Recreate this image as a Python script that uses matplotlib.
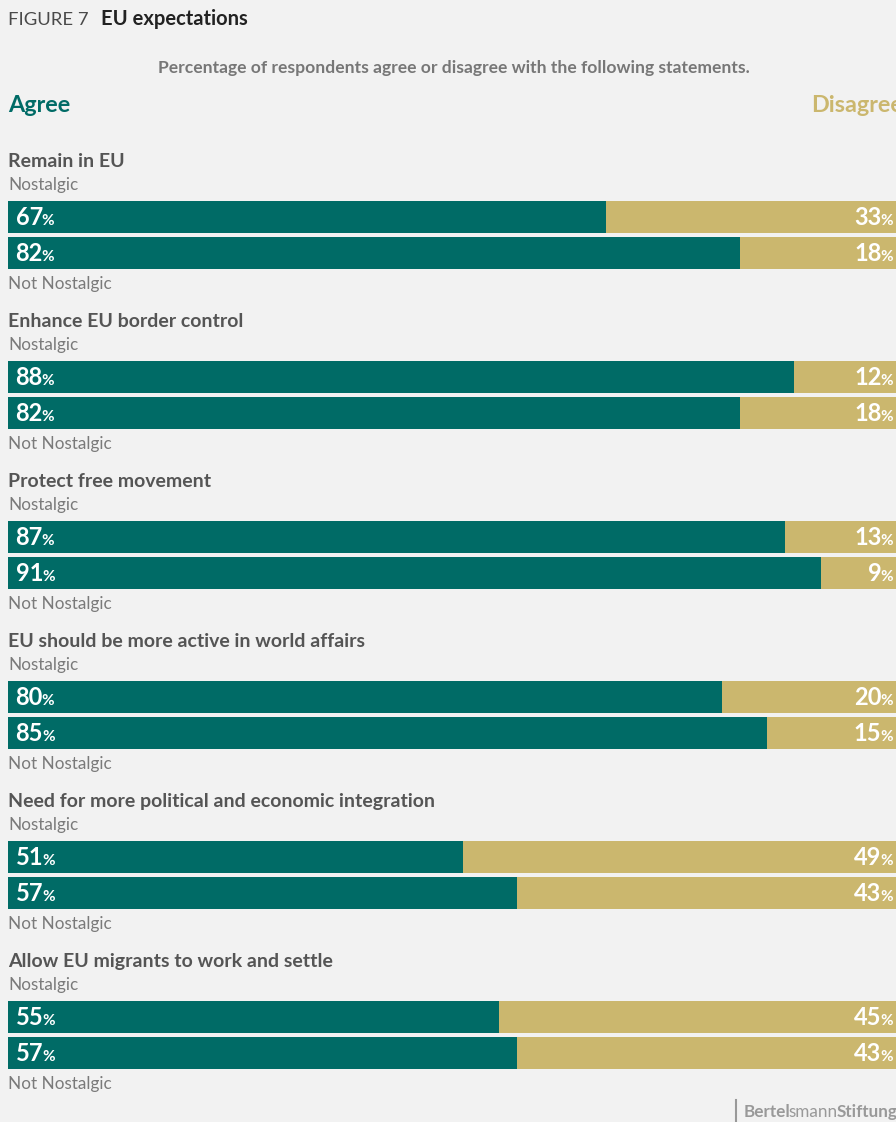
import matplotlib
matplotlib.use('Agg')
import matplotlib.pyplot as plt

# data
statements = [
    "Remain in EU",
    "Enhance EU border control",
    "Protect free movement",
    "EU should be more active in world affairs",
    "Need for more political and economic integration",
    "Allow EU migrants to work and settle",
]
agree_nostalgic = [67, 88, 87, 80, 51, 55]
agree_not_nostalgic = [82, 82, 91, 85, 57, 57]
groups = ["Nostalgic", "Not Nostalgic"]

TEAL = '#006b66'
GOLD = '#cbb76e'
BG = '#f2f2f2'
FONT = ['Lato', 'DejaVu Sans']

W, H = 896, 1122
fig = plt.figure(figsize=(W / 100, H / 100), dpi=100)
fig.patch.set_facecolor(BG)

# axes: x in percent, y in pixels from the top
x0, bar_w = 8, 893
ax = fig.add_axes([x0 / W, 0, bar_w / W, 1])
ax.set_xlim(0, 100)
ax.set_ylim(H, 0)
ax.axis('off')
ax.patch.set_alpha(0)

first_top, group_step, bar_h, bar_gap = 201, 160, 32, 4

def ftxt(x, y, s, **kw):
    kw.setdefault('family', FONT)
    return fig.text(x / W, 1 - y / H, s, **kw)

renderer = fig.canvas.get_renderer()

NUM_FS, PCT_FS = 17, 11

def num_pct(x, y, val, right=False):
    # big number followed by a small % sign
    if right:
        p = ax.text(x, y, '%', color='white', fontsize=PCT_FS, fontweight='bold',
                    family=FONT, ha='right', va='baseline')
        pw = p.get_window_extent(renderer).width
        ax.annotate(f'{val}', (x, y), xytext=(-pw * 0.72 + 0.8, 0), textcoords='offset points',
                    color='white', fontsize=NUM_FS, fontweight='bold', family=FONT,
                    ha='right', va='baseline')
    else:
        t = ax.text(x, y, f'{val}', color='white', fontsize=NUM_FS, fontweight='bold',
                    family=FONT, ha='left', va='baseline')
        tw = t.get_window_extent(renderer).width
        ax.annotate('%', (x, y), xytext=(tw * 0.72 - 0.8, 0), textcoords='offset points',
                    color='white', fontsize=PCT_FS, fontweight='bold', family=FONT,
                    ha='left', va='baseline')

right_x = (893 - x0) / bar_w * 100  # right label anchor, in percent

for i, name in enumerate(statements):
    top = first_top + i * group_step
    vals = [agree_nostalgic[i], agree_not_nostalgic[i]]
    for j, v in enumerate(vals):
        yc = top + j * (bar_h + bar_gap) + bar_h / 2
        ax.barh(yc, v, height=bar_h, left=0, color=TEAL, linewidth=0)
        ax.barh(yc, 100 - v, height=bar_h, left=v, color=GOLD, linewidth=0)
        num_pct(0.85, yc + 8, v)
        num_pct(right_x, yc + 8, 100 - v, right=True)
    ftxt(8, top - 34, name, fontsize=14, fontweight='bold', color='#555555',
         va='baseline')
    ftxt(8, top - 11, groups[0], fontsize=12.3, color='#7a7a7a', va='baseline')
    ftxt(8, top + 2 * bar_h + bar_gap + 20, groups[1], fontsize=12.3, color='#7a7a7a',
         va='baseline')

# header
ftxt(8, 25, 'FIGURE 7', fontsize=13.3, fontweight='normal', color='#4a4a4a', va='baseline')
ftxt(101, 25, 'EU expectations', fontsize=14.5, fontweight='bold', color='#222222',
     va='baseline')
ftxt(454, 73, 'Percentage of respondents agree or disagree with the following statements.',
     fontsize=12.6, fontweight='bold', color='#777777', ha='center', va='baseline')
ftxt(8, 112, 'Agree', fontsize=16.8, fontweight='bold', color=TEAL, va='baseline')
ftxt(811, 112, 'Disagree', fontsize=16.8, fontweight='bold', color=GOLD, va='baseline')

# footer logo text
fig.add_artist(plt.Line2D([736 / W, 736 / W], [1 - 1100 / H, 1 - 1121 / H],
                          color='#999999', lw=1.5))
t1 = ftxt(744, 1117, 'Bertel', fontsize=12.3, fontweight='bold', color='#999999',
          va='baseline')
w1 = t1.get_window_extent(renderer).width - 2
t2 = ftxt(744 + w1, 1117, 'smann', fontsize=12.3, fontweight='normal', color='#999999',
          va='baseline')
w2 = t2.get_window_extent(renderer).width - 1
ftxt(744 + w1 + w2, 1117, 'Stiftung', fontsize=12.3, fontweight='bold', color='#999999',
     va='baseline')

fig.savefig('out.png', dpi=100, facecolor=BG)
